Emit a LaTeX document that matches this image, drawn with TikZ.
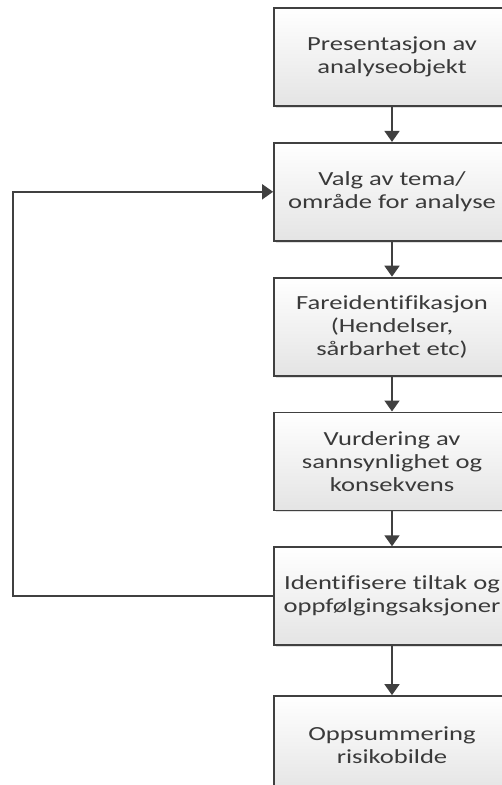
\documentclass[tikz,border=0pt]{standalone}
\usepackage{fontspec}
\setmainfont{Carlito}[FakeStretch=1.33, Ligatures=NoCommon]
\usetikzlibrary{arrows.meta, positioning, shadows}
\definecolor{strek}{HTML}{404040}
\definecolor{bunn}{HTML}{E4E4E4}

\begin{document}
\begin{tikzpicture}[
            x = 1pt, y = 1pt,
            > = {Triangle[length=11pt, width=15pt]},
            node distance = 35pt,
            line width = 1.8pt,
            draw = strek
        ]
        \tikzstyle{boks}=[
            draw = strek,
            line width = 1.8pt,
            top color = white,
            bottom color = bunn,
            drop shadow = {opacity=0.25, shadow xshift=2pt, shadow yshift=-2pt},
            text = strek!90!black,
            align = center,
            font = \fontsize{20}{23}\selectfont,
            minimum width = 236pt,
            minimum height = 98pt,
            inner sep = 2pt
        ]
        \useasboundingbox (0,0) rectangle (502,-785);
        \fill[white] (0,0) rectangle (502,-785);

        \node[boks] (pres) at (392,-57) {Presentasjon av\\analyseobjekt};
        \node[boks] (valg) [below=of pres] {Valg av tema/\\område for analyse};
        \node[boks] (fare) [below=of valg] {Fareidentifikasjon\\(Hendelser,\\sårbarhet etc)};
        \node[boks] (vurd) [below=of fare] {Vurdering av\\sannsynlighet og\\konsekvens};
        \node[boks] (tiltak) [below=of vurd] {Identifisere tiltak og\\oppfølgingsaksjoner};
        \node[boks] (risiko) [below=49pt of tiltak] {Oppsummering\\risikobilde};
        \coordinate (venstre) at (13,0);

        \draw[->, strek] (pres) -- (valg);
        \draw[->, strek] (valg) -- (fare);
        \draw[->, strek] (fare) -- (vurd);
        \draw[->, strek] (vurd) -- (tiltak);
        \draw[->, strek] (tiltak) -- (risiko);
        \draw[->, strek] (tiltak.west) -- (tiltak.west -| venstre) |- (valg.west);
\end{tikzpicture}
\end{document}
